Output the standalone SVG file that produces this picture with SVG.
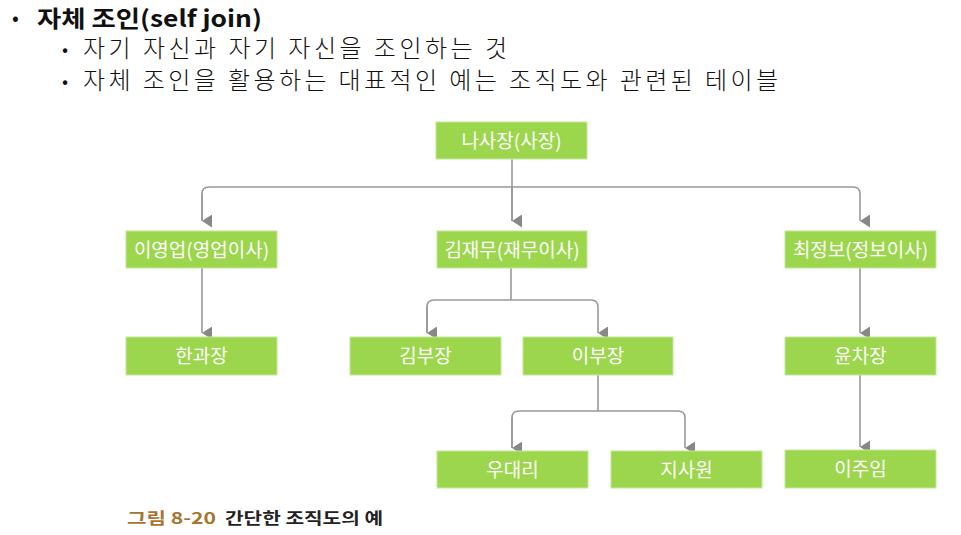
<svg xmlns="http://www.w3.org/2000/svg" width="961" height="535" viewBox="0 0 961 535">
<style>
.t{font-family:"Noto Sans CJK KR","Noto Sans",sans-serif;fill:#111}
.n rect{fill:#9cd64c;stroke:#c2e79a;stroke-width:1}
.n text{font-family:"Noto Sans CJK KR",sans-serif;font-size:19px;fill:#fff;text-anchor:middle}
.c path{fill:none;stroke:#999;stroke-width:1.6}
</style>
<defs>
<marker id="ah" viewBox="0 0 13 10" refX="6.5" refY="10" markerWidth="13" markerHeight="10" markerUnits="userSpaceOnUse" orient="auto-start-reverse">
<path d="M0,0 L13,0 L6.5,10 Z" fill="#888"/>
</marker>
</defs>
<rect width="961" height="535" fill="#fff"/>
<text class="t" x="12" y="25" font-size="20">•</text>
<text class="t" x="37" y="27" font-size="23" font-weight="bold" textLength="225" lengthAdjust="spacingAndGlyphs">자체 조인(self join)</text>
<text class="t" x="62" y="56" font-size="18">•</text>
<text class="t" x="83" y="57" font-size="24" font-weight="300" textLength="424" lengthAdjust="spacing">자기 자신과 자기 자신을 조인하는 것</text>
<text class="t" x="62" y="88" font-size="18">•</text>
<text class="t" x="83" y="89" font-size="24" font-weight="300" textLength="695" lengthAdjust="spacing">자체 조인을 활용하는 대표적인 예는 조직도와 관련된 테이블</text>

<g class="c">
<path d="M512,159 V221"/>
<path d="M202,221 V194 Q202,187 209,187 H853 Q860,187 860,194 V221" marker-end="url(#ah)"/>
<path d="M202,194 V221" marker-end="url(#ah)"/>
<path d="M512,187 V221" marker-end="url(#ah)"/>
<path d="M202,268 V333" marker-end="url(#ah)"/>
<path d="M511,268 V300"/>
<path d="M427,333 V307 Q427,300 434,300 H591 Q598,300 598,307 V333" marker-end="url(#ah)"/>
<path d="M427,307 V333" marker-end="url(#ah)"/>
<path d="M598,375 V411"/>
<path d="M512,448 V418 Q512,411 519,411 H678 Q685,411 685,418 V448" marker-end="url(#ah)"/>
<path d="M512,418 V448" marker-end="url(#ah)"/>
<path d="M860,268 V333" marker-end="url(#ah)"/>
<path d="M860,375 V447" marker-end="url(#ah)"/>
</g>

<g id="n1" class="n"><rect x="436" y="122" width="151" height="37"/><text x="511.5" y="147.5">나사장(사장)</text></g>
<g id="n2" class="n"><rect x="126" y="231" width="151" height="37"/><text x="201.5" y="256.5">이영업(영업이사)</text></g>
<g id="n3" class="n"><rect x="437" y="231" width="150" height="37"/><text x="512" y="256.5">김재무(재무이사)</text></g>
<g id="n4" class="n"><rect x="785" y="231" width="151" height="37"/><text x="860.5" y="256.5">최정보(정보이사)</text></g>
<g id="n5" class="n"><rect x="126" y="337" width="151" height="38"/><text x="201.5" y="363">한과장</text></g>
<g id="n6" class="n"><rect x="350" y="337" width="151" height="38"/><text x="425.5" y="363">김부장</text></g>
<g id="n7" class="n"><rect x="523" y="337" width="150" height="38"/><text x="598" y="363">이부장</text></g>
<g id="n8" class="n"><rect x="785" y="337" width="151" height="38"/><text x="860.5" y="363">윤차장</text></g>
<g id="n9" class="n"><rect x="437" y="451" width="151" height="37"/><text x="512.5" y="476.5">우대리</text></g>
<g id="n10" class="n"><rect x="611" y="451" width="151" height="37"/><text x="686.5" y="476.5">지사원</text></g>
<g id="n11" class="n"><rect x="785" y="450" width="151" height="38"/><text x="860.5" y="476">이주임</text></g>

<text class="t" x="127" y="524" font-size="16" font-weight="bold" style="fill:#a87432" textLength="89" lengthAdjust="spacingAndGlyphs">그림 8-20</text>
<text class="t" x="225" y="524" font-size="16" font-weight="bold" style="fill:#222" textLength="158" lengthAdjust="spacingAndGlyphs">간단한 조직도의 예</text>
</svg>
